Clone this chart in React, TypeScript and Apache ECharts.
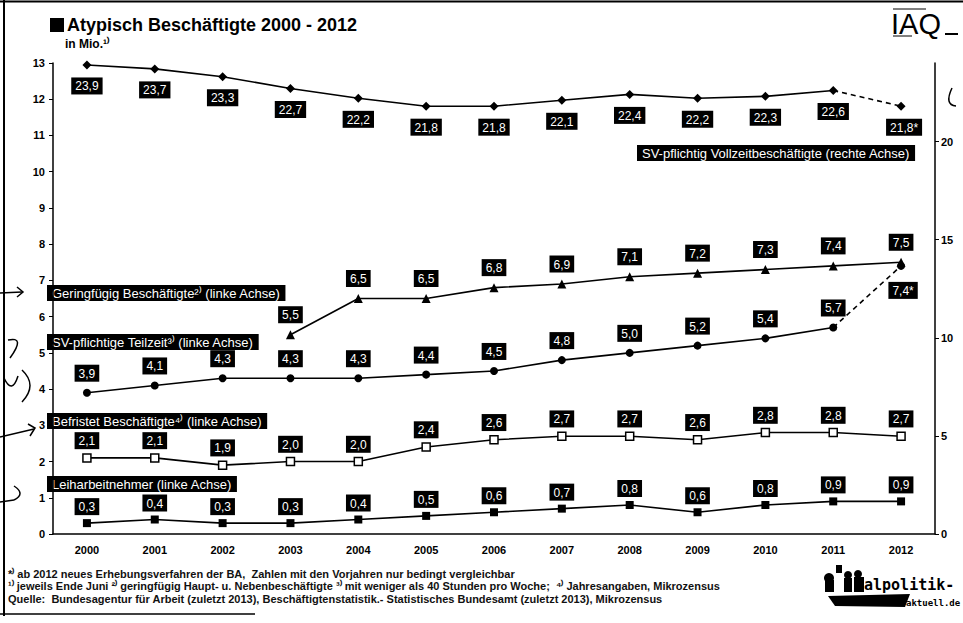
import React, { useEffect, useRef } from 'react';
import * as echarts from 'echarts';

const years = ['2000', '2001', '2002', '2003', '2004', '2005', '2006', '2007', '2008', '2009', '2010', '2011', '2012'];
// SV-pflichtig Vollzeitbeschäftigte (rechte Achse), Mio.
const vollzeit = [23.9, 23.7, 23.3, 22.7, 22.2, 21.8, 21.8, 22.1, 22.4, 22.2, 22.3, 22.6, 21.8];
// Geringfügig Beschäftigte (linke Achse)
const geringfuegig: (number | null)[] = [null, null, null, 5.5, 6.5, 6.5, 6.8, 6.9, 7.1, 7.2, 7.3, 7.4, 7.5];
// SV-pflichtige Teilzeit (linke Achse)
const teilzeit = [3.9, 4.1, 4.3, 4.3, 4.3, 4.4, 4.5, 4.8, 5.0, 5.2, 5.4, 5.7, 7.4];
// Befristet Beschäftigte (linke Achse)
const befristet = [2.1, 2.1, 1.9, 2.0, 2.0, 2.4, 2.6, 2.7, 2.7, 2.6, 2.8, 2.8, 2.7];
// Leiharbeitnehmer (linke Achse)
const leih = [0.3, 0.4, 0.3, 0.3, 0.4, 0.5, 0.6, 0.7, 0.8, 0.6, 0.8, 0.9, 0.9];
// index from which the new survey method applies (dashed segment)
const breakIndex = 12;

const leftAxis = { min: 0, max: 13, interval: 1 };
const rightAxis = { min: 0, max: 24, interval: 5 };

const title = 'Atypisch Beschäftigte 2000 - 2012';
const subtitle = 'in Mio.¹⁾';
const seriesNames = {
  vollzeit: 'SV-pflichtig Vollzeitbeschäftigte (rechte Achse)',
  geringfuegig: 'Geringfügig Beschäftigte²⁾ (linke Achse)',
  teilzeit: 'SV-pflichtige Teilzeit³⁾ (linke Achse)',
  befristet: 'Befristet Beschäftigte⁴⁾ (linke Achse)',
  leih: 'Leiharbeitnehmer (linke Achse)',
};
const footnotes = [
  '*⁾ ab 2012 neues Erhebungsverfahren der BA,  Zahlen mit den Vorjahren nur bedingt vergleichbar',
  '¹⁾ jeweils Ende Juni ²⁾ geringfügig Haupt- u. Nebenbeschäftigte ³⁾ mit weniger als 40 Stunden pro Woche;  ⁴⁾ Jahresangaben, Mikrozensus',
  'Quelle:  Bundesagentur für Arbeit (zuletzt 2013), Beschäftigtenstatistik.- Statistisches Bundesamt (zuletzt 2013), Mikrozensus',
];

const FONT = '"Liberation Sans", Arial, sans-serif';
const fmt = (v: number) => v.toFixed(1).replace('.', ',');

const labelBase = {
  show: true,
  color: '#fff',
  backgroundColor: '#000',
  padding: [3, 4, 2, 4],
  fontSize: 12,
  fontFamily: FONT,
  formatter: (p: any) => (p.value == null ? '' : fmt(p.value)),
};

function solidPart(arr: (number | null)[]) {
  return arr.map((v, i) => (i < breakIndex ? v : null));
}
function dashedPart(arr: (number | null)[], labelPos: any) {
  return arr.map((v, i) => {
    if (i === breakIndex - 1) return { value: v, symbol: 'none', label: { show: false } };
    if (i === breakIndex)
      return { value: v, label: { ...labelPos, formatter: (p: any) => fmt(p.value) + '*' } };
    return null;
  });
}

export default function App() {
  const ref = useRef<HTMLDivElement>(null);
  useEffect(() => {
    document.body.style.margin = '0';
    const chart = echarts.init(ref.current!, null, { renderer: 'svg' });
    const lineStyle = { color: '#000', width: 1.6 };
    const legendBox = (text: string, x: number, y: number) => ({
      type: 'text',
      x,
      y,
      style: {
        text,
        fill: '#fff',
        backgroundColor: '#000',
        padding: [2, 5, 1, 5],
        font: `13px ${FONT}`,
      },
    });
    const option: any = {
      animation: false,
      backgroundColor: '#fff',
      grid: { left: 53, right: 28, top: 63, bottom: 89 },
      xAxis: {
        type: 'category',
        data: years,
        boundaryGap: true,
        axisLine: { lineStyle: { color: '#000', width: 1.5 } },
        axisTick: { alignWithLabel: true, length: 4, lineStyle: { color: '#000' } },
        axisLabel: { color: '#000', fontWeight: 'bold', fontSize: 11, fontFamily: FONT, margin: 10 },
      },
      yAxis: [
        {
          type: 'value',
          ...leftAxis,
          position: 'left',
          axisLine: { show: true, lineStyle: { color: '#000', width: 1.5 } },
          axisTick: { show: true, length: 4, lineStyle: { color: '#000' } },
          axisLabel: { color: '#000', fontWeight: 'bold', fontSize: 11, fontFamily: FONT, margin: 8 },
          splitLine: { show: false },
        },
        {
          type: 'value',
          ...rightAxis,
          position: 'right',
          axisLine: { show: true, lineStyle: { color: '#000', width: 1.5 } },
          axisTick: { show: true, length: 4, lineStyle: { color: '#000' } },
          axisLabel: { color: '#000', fontWeight: 'bold', fontSize: 11, fontFamily: FONT, margin: 6, showMaxLabel: false },
          splitLine: { show: false },
        },
      ],
      series: [
        {
          name: seriesNames.vollzeit,
          type: 'line',
          yAxisIndex: 1,
          data: solidPart(vollzeit),
          symbol: 'diamond',
          symbolSize: 9,
          itemStyle: { color: '#000' },
          lineStyle,
          label: { ...labelBase, position: 'bottom', distance: 8 },
        },
        {
          name: seriesNames.vollzeit + ' *',
          type: 'line',
          yAxisIndex: 1,
          data: dashedPart(vollzeit, { position: 'bottom', distance: 8, offset: [3, 0] }),
          symbol: 'diamond',
          symbolSize: 9,
          itemStyle: { color: '#000' },
          lineStyle: { ...lineStyle, type: [5, 4] },
          label: { ...labelBase },
        },
        {
          name: seriesNames.geringfuegig,
          type: 'line',
          yAxisIndex: 0,
          data: geringfuegig,
          symbol: 'triangle',
          symbolSize: 9,
          itemStyle: { color: '#000' },
          lineStyle,
          label: { ...labelBase, position: 'top', distance: 7 },
        },
        {
          name: seriesNames.teilzeit,
          type: 'line',
          yAxisIndex: 0,
          data: solidPart(teilzeit),
          symbol: 'circle',
          symbolSize: 8,
          itemStyle: { color: '#000' },
          lineStyle,
          label: { ...labelBase, position: 'top', distance: 7 },
        },
        {
          name: seriesNames.teilzeit + ' *',
          type: 'line',
          yAxisIndex: 0,
          data: dashedPart(teilzeit, { position: 'bottom', distance: 12, offset: [2, 0] }),
          symbol: 'circle',
          symbolSize: 8,
          itemStyle: { color: '#000' },
          lineStyle: { ...lineStyle, type: [5, 4] },
          label: { ...labelBase },
        },
        {
          name: seriesNames.befristet,
          type: 'line',
          yAxisIndex: 0,
          data: befristet,
          symbol: 'rect',
          symbolSize: 8,
          itemStyle: { color: '#fff', borderColor: '#000', borderWidth: 1.5 },
          lineStyle,
          label: { ...labelBase, position: 'top', distance: 4 },
        },
        {
          name: seriesNames.leih,
          type: 'line',
          yAxisIndex: 0,
          data: leih,
          symbol: 'rect',
          symbolSize: 8,
          itemStyle: { color: '#000' },
          lineStyle,
          label: { ...labelBase, position: 'top', distance: 4 },
        },
      ],
      graphic: [
        // frame
        { type: 'line', shape: { x1: 0, y1: 1.5, x2: 963, y2: 1.5 }, style: { stroke: '#000', lineWidth: 2 } },
        { type: 'line', shape: { x1: 4, y1: 0, x2: 4, y2: 616 }, style: { stroke: '#000', lineWidth: 2 } },
        { type: 'line', shape: { x1: 0, y1: 614, x2: 255, y2: 614 }, style: { stroke: '#000', lineWidth: 1.5 } },
        // title
        { type: 'rect', shape: { x: 50, y: 18, width: 14, height: 14 }, style: { fill: '#000' } },
        { type: 'text', x: 67, y: 16, style: { text: title, fill: '#000', font: `bold 18px ${FONT}` } },
        { type: 'text', x: 65, y: 38, style: { text: subtitle, fill: '#000', font: `bold 12px ${FONT}` } },
        // IAQ logo
        { type: 'line', shape: { x1: 893, y1: 9, x2: 926, y2: 9 }, style: { stroke: '#000', lineWidth: 1 } },
        { type: 'text', x: 891, y: 9, style: { text: 'IAQ', fill: '#000', font: `29px ${FONT}` } },
        { type: 'line', shape: { x1: 945, y1: 34, x2: 958, y2: 34 }, style: { stroke: '#000', lineWidth: 2 } },
        { type: 'line', shape: { x1: 893, y1: 36, x2: 912, y2: 36 }, style: { stroke: '#000', lineWidth: 1 } },
        // series name boxes
        legendBox(seriesNames.vollzeit, 637, 145),
        legendBox(seriesNames.geringfuegig, 47, 285),
        legendBox(seriesNames.teilzeit, 47, 334),
        legendBox(seriesNames.befristet, 47, 413),
        legendBox(seriesNames.leih, 47, 476),
        // footnotes
        ...footnotes.map((t, i) => ({
          type: 'text',
          x: 8,
          y: 568 + i * 12.5,
          style: { text: t, fill: '#111', font: `bold 11px ${FONT}` },
        })),
        // sozialpolitik-aktuell logo
        { type: 'circle', shape: { cx: 829, cy: 578, r: 5 }, style: { fill: '#000' } },
        { type: 'rect', shape: { x: 825, y: 580, width: 9, height: 12 }, style: { fill: '#000' } },
        { type: 'circle', shape: { cx: 848, cy: 575, r: 4 }, style: { fill: '#000' } },
        { type: 'rect', shape: { x: 844, y: 578, width: 8, height: 14 }, style: { fill: '#000' } },
        { type: 'rect', shape: { x: 836, y: 565, width: 6, height: 8 }, style: { fill: '#000' } },
        { type: 'circle', shape: { cx: 858, cy: 574, r: 4 }, style: { fill: '#000' } },
        { type: 'rect', shape: { x: 854, y: 577, width: 10, height: 15 }, style: { fill: '#000' } },
        { type: 'polygon', shape: { points: [[828, 596], [910, 594], [905, 607], [835, 606]] }, style: { fill: '#000' } },
        { type: 'text', x: 864, y: 577, style: { text: 'alpolitik-', fill: '#000', font: `bold 15px "DejaVu Sans Mono", monospace` } },
        { type: 'text', x: 906, y: 598, style: { text: 'aktuell.de', fill: '#000', font: `bold 9px "DejaVu Sans Mono", monospace` } },
        // handwritten marks at the left edge
        { type: 'polyline', shape: { points: [[0, 293], [22, 292]] }, style: { stroke: '#000', lineWidth: 1.5, fill: null } },
        { type: 'polyline', shape: { points: [[17, 287], [23, 292], [17, 297]] }, style: { stroke: '#000', lineWidth: 1.5, fill: null } },
        { type: 'bezierCurve', shape: { x1: 8, y1: 340, cpx1: 26, cpy1: 336, x2: 10, y2: 358 }, style: { stroke: '#000', lineWidth: 1.5, fill: null } },
        { type: 'bezierCurve', shape: { x1: 22, y1: 370, cpx1: 38, cpy1: 385, x2: 22, y2: 402 }, style: { stroke: '#000', lineWidth: 1.5, fill: null } },
        { type: 'bezierCurve', shape: { x1: 4, y1: 378, cpx1: 12, cpy1: 395, x2: 18, y2: 376 }, style: { stroke: '#000', lineWidth: 1.5, fill: null } },
        { type: 'polyline', shape: { points: [[0, 437], [34, 429]] }, style: { stroke: '#000', lineWidth: 1.5, fill: null } },
        { type: 'polyline', shape: { points: [[28, 424], [35, 428], [30, 436]] }, style: { stroke: '#000', lineWidth: 1.5, fill: null } },
        { type: 'polyline', shape: { points: [[0, 502], [14, 500]] }, style: { stroke: '#000', lineWidth: 1.5, fill: null } },
        { type: 'bezierCurve', shape: { x1: 14, y1: 500, cpx1: 26, cpy1: 494, x2: 14, y2: 486 }, style: { stroke: '#000', lineWidth: 1.5, fill: null } },
        { type: 'bezierCurve', shape: { x1: 952, y1: 88, cpx1: 944, cpy1: 105, x2: 956, y2: 106 }, style: { stroke: '#000', lineWidth: 1.5, fill: null } },
      ],
    };
    chart.setOption(option);
    return () => chart.dispose();
  }, []);
  return <div ref={ref} style={{ width: 963, height: 623 }} />;
}
